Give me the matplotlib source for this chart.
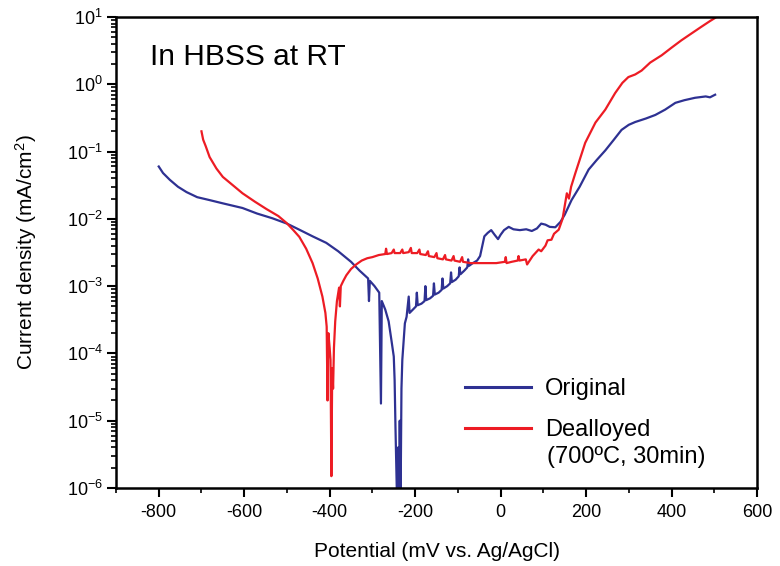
import matplotlib
matplotlib.use("Agg")
import matplotlib.pyplot as plt
from matplotlib.ticker import LogLocator, MultipleLocator, NullFormatter

plt.rcParams['font.family'] = ['Liberation Sans', 'DejaVu Sans']
plt.rcParams['mathtext.fontset'] = 'custom'
plt.rcParams['mathtext.rm'] = 'Liberation Sans'
plt.rcParams['mathtext.it'] = 'Liberation Sans:italic'
plt.rcParams['mathtext.bf'] = 'Liberation Sans:bold'
plt.rcParams['axes.unicode_minus'] = False

# ---- data (potential in mV, current density in mA/cm^2) ----
orig_v = [-800, -790, -774, -755, -735, -710, -681, -650, -604, -570, -534, -500,
          -471, -440, -408, -380, -350, -330, -310, -308, -306, -295, -284, -280,
          -278, -270, -262, -255, -250, -248, -246, -244, -242, -240, -238, -236,
          -234, -232, -230, -227, -224, -220, -215, -213, -205, -198, -196, -194,
          -185, -178, -176, -174, -165, -158, -156, -154, -145, -138, -136, -134,
          -125, -118, -116, -114, -105, -98, -96, -94, -85, -78, -76, -74, -65,
          -55, -48, -42, -38, -30, -22, -14, -6, 0, 8, 19, 30, 45, 60, 73, 85,
          95, 105, 115, 128, 140, 150, 166, 185, 206, 225, 245, 265, 283, 300,
          315, 340, 362, 385, 409, 430, 455, 480, 490, 502]
orig_i = [0.060, 0.048, 0.038, 0.030, 0.025, 0.021, 0.019, 0.017, 0.0145, 0.012,
          0.0102, 0.0085, 0.0069, 0.0055, 0.0044, 0.0033, 0.0023, 0.0017, 0.0013,
          0.0006, 0.0012, 0.0010, 0.0008, 0.000018, 0.0006, 0.00045, 0.0003,
          0.00015, 0.00009, 0.00004, 0.000008, 0.000002, 5e-7, 0.000004, 5e-7,
          0.00001, 7e-7, 0.00003, 0.00008, 0.00015, 0.00028, 0.00035, 0.0007,
          0.0004, 0.00045, 0.0005, 0.0008, 0.00052, 0.00055, 0.0006, 0.0010,
          0.00062, 0.00066, 0.00072, 0.0011, 0.00075, 0.0008, 0.00088, 0.0013,
          0.00092, 0.0010, 0.0011, 0.0016, 0.00115, 0.00125, 0.0014, 0.0019,
          0.0015, 0.0017, 0.0019, 0.0025, 0.0020, 0.0022, 0.0024, 0.0028, 0.0042,
          0.0055, 0.0062, 0.0068, 0.0058, 0.0050, 0.0058, 0.0068, 0.0076, 0.0070,
          0.0068, 0.0070, 0.0066, 0.0072, 0.0085, 0.0082, 0.0076, 0.0075, 0.0090,
          0.0115, 0.019, 0.030, 0.054, 0.075, 0.104, 0.15, 0.21, 0.25, 0.275,
          0.31, 0.35, 0.42, 0.53, 0.58, 0.63, 0.66, 0.64, 0.70]

deal_v = [-700, -696, -690, -681, -665, -650, -625, -604, -575, -548, -520, -501,
          -485, -471, -455, -440, -428, -417, -410, -407, -405, -403, -400, -398,
          -396, -394, -392, -390, -387, -383, -378, -376, -374, -368, -361, -350,
          -338, -325, -312, -300, -285, -270, -268, -266, -255, -250, -248, -235,
          -230, -228, -215, -210, -208, -195, -190, -188, -175, -170, -168, -155,
          -150, -148, -135, -130, -128, -115, -110, -108, -95, -90, -88, -70, -50,
          -30, -10, 10, 12, 14, 26, 40, 42, 44, 59, 62, 75, 89, 95, 105, 110, 119,
          125, 136, 145, 155, 160, 165, 175, 198, 222, 245, 268, 285, 299, 315,
          330, 350, 377, 400, 423, 445, 469, 490, 502]
deal_i = [0.20, 0.15, 0.12, 0.083, 0.056, 0.042, 0.031, 0.024, 0.018, 0.014, 0.011,
          0.0087, 0.0068, 0.0054, 0.0036, 0.0022, 0.0013, 0.0007, 0.0004, 0.00025,
          0.00002, 0.0002, 0.00012, 0.00008, 0.0000015, 0.00006, 0.00003, 0.00012,
          0.0003, 0.0006, 0.00095, 0.0005, 0.0010, 0.0012, 0.00145, 0.0018, 0.0021,
          0.0024, 0.0026, 0.0027, 0.0029, 0.0030, 0.0036, 0.0030, 0.0031, 0.0035,
          0.0031, 0.0031, 0.0035, 0.0031, 0.0032, 0.0037, 0.0031, 0.0031, 0.0035,
          0.0030, 0.0029, 0.0033, 0.0028, 0.0027, 0.0031, 0.0026, 0.0025, 0.0029,
          0.0025, 0.0024, 0.0028, 0.0024, 0.0023, 0.0027, 0.0023, 0.0022, 0.0022,
          0.0022, 0.0022, 0.0023, 0.0027, 0.0022, 0.0023, 0.0024, 0.0028, 0.0024,
          0.0025, 0.0021, 0.0028, 0.0035, 0.0033, 0.0040, 0.0048, 0.0049, 0.0060,
          0.0069, 0.010, 0.024, 0.020, 0.030, 0.048, 0.135, 0.27, 0.42, 0.74,
          1.05, 1.28, 1.40, 1.6, 2.1, 2.7, 3.5, 4.5, 5.6, 7.1, 8.7, 9.7]

labels = ["Original", "Dealloyed"]
label_note = "(700\u00baC, 30min)"
title_text = "In HBSS at RT"
x_label = "Potential (mV vs. Ag/AgCl)"
y_label = "Current density (mA/cm$^{2}$)"

blue = "#2e3192"
red = "#ed1c24"

fig = plt.figure(figsize=(7.8, 5.66), dpi=100)
ax = fig.add_axes([116/780, 1 - 488/566, (757-116)/780, (488-17)/566])

l1, = ax.plot(orig_v, orig_i, color=blue, lw=1.6, label=labels[0])
l2, = ax.plot(deal_v, deal_i, color=red, lw=1.6, label=labels[1])

ax.set_yscale('log')
ax.set_xlim(-900, 600)
ax.set_ylim(1e-6, 10)

ax.xaxis.set_major_locator(MultipleLocator(200))
ax.xaxis.set_minor_locator(MultipleLocator(100))
ax.yaxis.set_major_locator(LogLocator(base=10, numticks=20))
ax.yaxis.set_minor_locator(LogLocator(base=10, subs=range(2, 10), numticks=20))
ax.yaxis.set_minor_formatter(NullFormatter())

for s in ax.spines.values():
    s.set_linewidth(1.8)
ax.tick_params(which='major', direction='out', length=6.5, width=1.5,
               labelsize=13, top=False, right=False)
ax.tick_params(axis='x', which='major', pad=5)
ax.tick_params(axis='y', which='major', pad=3)
ax.tick_params(which='minor', direction='out', length=3.5, width=1.2,
               top=False, right=False)

ax.set_xlabel(x_label, fontsize=15, labelpad=15)
ax.set_ylabel(y_label, fontsize=15, labelpad=20)

ax.text((150-116)/641, (488-57)/471, title_text, transform=ax.transAxes,
        fontsize=21.5, va='center', ha='left')

leg = ax.legend(handles=[l1, l2], loc='upper left',
                bbox_to_anchor=((465-116)/641, (488-378)/471),
                frameon=False, fontsize=17, handlelength=2.8,
                handletextpad=0.6, labelspacing=0.8, borderpad=0,
                borderaxespad=0)
for h in leg.get_lines():
    h.set_linewidth(2.2)
ax.text((547-116)/641, (488-457)/471, label_note, transform=ax.transAxes,
        fontsize=17, va='center', ha='left')

fig.savefig("out.png", dpi=100)
